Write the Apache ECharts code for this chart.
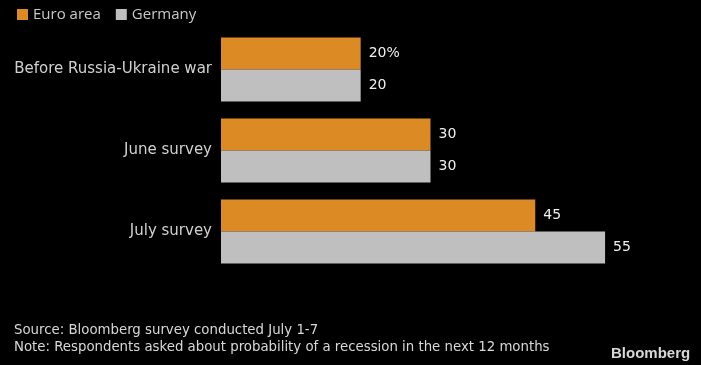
<!DOCTYPE html>
<html><head><meta charset="utf-8">
<script src="https://cdn.jsdelivr.net/npm/echarts@6/dist/echarts.min.js"></script>
<style>html,body{margin:0;padding:0;background:#000;}#c{width:701px;height:365px;}</style>
</head><body><div id="c"></div>
<script>
const categories = ["Before Russia-Ukraine war", "June survey", "July survey"];
const euroArea = [20, 30, 45];
const germany = [20, 30, 55];
const seriesNames = ["Euro area", "Germany"];
const sourceText = "Source: Bloomberg survey conducted July 1-7";
const noteText = "Note: Respondents asked about probability of a recession in the next 12 months";

const chart = echarts.init(document.getElementById('c'));
const font = "'DejaVu Sans', sans-serif";
const legendFont = "'Open Sans', 'DejaVu Sans', sans-serif";
const footFont = "'DejaVu Sans Condensed', 'DejaVu Sans', sans-serif";
chart.setOption({
  backgroundColor: '#000',
  animation: false,
  legend: {
    left: 12, top: 2, itemWidth: 11, itemHeight: 11, itemGap: 15,
    icon: 'rect',
    textStyle: { color: '#c8c8c8', fontSize: 15, fontFamily: legendFont },
    data: seriesNames
  },
  grid: { left: 221, top: 29, height: 243, width: 419 },
  xAxis: { type: 'value', min: 0, max: 60, show: false },
  yAxis: {
    type: 'category', inverse: true, data: categories,
    axisLine: { show: false }, axisTick: { show: false },
    axisLabel: { color: '#d0d0d0', fontSize: 15, fontFamily: font, margin: 9 }
  },
  series: [
    {
      name: seriesNames[0], type: 'bar', data: euroArea, barWidth: 32, barGap: '0%',
      itemStyle: { color: '#dc8a24' },
      label: { show: true, position: 'right', distance: 8, color: '#f0f0f0', fontSize: 14, fontFamily: font,
        formatter: p => p.dataIndex === 0 ? p.value + '%' : String(p.value) }
    },
    {
      name: seriesNames[1], type: 'bar', data: germany, barWidth: 32,
      itemStyle: { color: '#bfbfbf' },
      label: { show: true, position: 'right', distance: 8, color: '#f0f0f0', fontSize: 14, fontFamily: font }
    }
  ],
  graphic: [
    { type: 'text', left: 14, top: 323, style: { text: sourceText, fill: '#d8d8d8', fontSize: 14.8, fontFamily: footFont } },
    { type: 'text', left: 14, top: 340, style: { text: noteText, fill: '#d8d8d8', fontSize: 14.8, fontFamily: footFont } },
    { type: 'text', left: 611, top: 346, style: { text: 'Bloomberg', fill: '#d8d8d8', fontSize: 15, fontWeight: 'bold', fontFamily: "'Liberation Sans', sans-serif" } }
  ]
});
</script></body></html>
